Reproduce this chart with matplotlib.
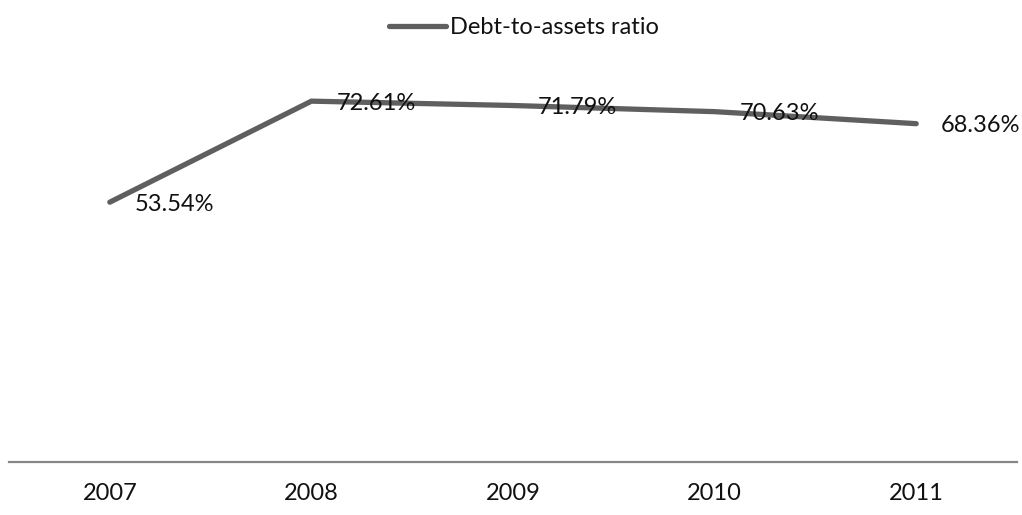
import matplotlib
matplotlib.use("Agg")
import matplotlib.pyplot as plt

years = ["2007", "2008", "2009", "2010", "2011"]
ratio = [53.54, 72.61, 71.79, 70.63, 68.36]
series_name = "Debt-to-assets ratio"

plt.rcParams["font.family"] = ["Lato", "DejaVu Sans"]

W, H = 1022, 515
fig = plt.figure(figsize=(W / 100, H / 100), dpi=100)

# plot area in pixel terms: left 9, right 1017, bottom (axis line) 462, top 62
left, right, bottom, top = 9, 1017, 462, 62
ax = fig.add_axes([left / W, 1 - bottom / H, (right - left) / W, (bottom - top) / H])

line_color = "#5f5f5f"
x = list(range(len(years)))
ax.plot(x, ratio, color=line_color, lw=3.8, solid_capstyle="round",
        solid_joinstyle="miter", label=series_name)

for xi, v in zip(x, ratio):
    ax.annotate(f"{v:.2f}%", (xi, v), xytext=(25, -2), textcoords="offset pixels",
                ha="left", va="center", fontsize=17, color="#111111")

ax.set_xlim(-0.5, len(years) - 0.5)
ax.set_ylim(4.5, 80)

ax.set_xticks(x)
ax.set_xticklabels(years, fontsize=17, color="#111111")
ax.tick_params(axis="x", length=0, pad=15)
ax.set_yticks([])

for side in ("top", "right", "left"):
    ax.spines[side].set_visible(False)
ax.spines["bottom"].set_color("#878787")
ax.spines["bottom"].set_linewidth(1.6)

leg = fig.legend(loc="center", bbox_to_anchor=(524 / W, 1 - 28 / H), frameon=False,
                 fontsize=17, handlelength=2.4, handletextpad=0.15)
for t in leg.get_texts():
    t.set_color("#111111")

fig.savefig("out.png", dpi=100, facecolor="white")
